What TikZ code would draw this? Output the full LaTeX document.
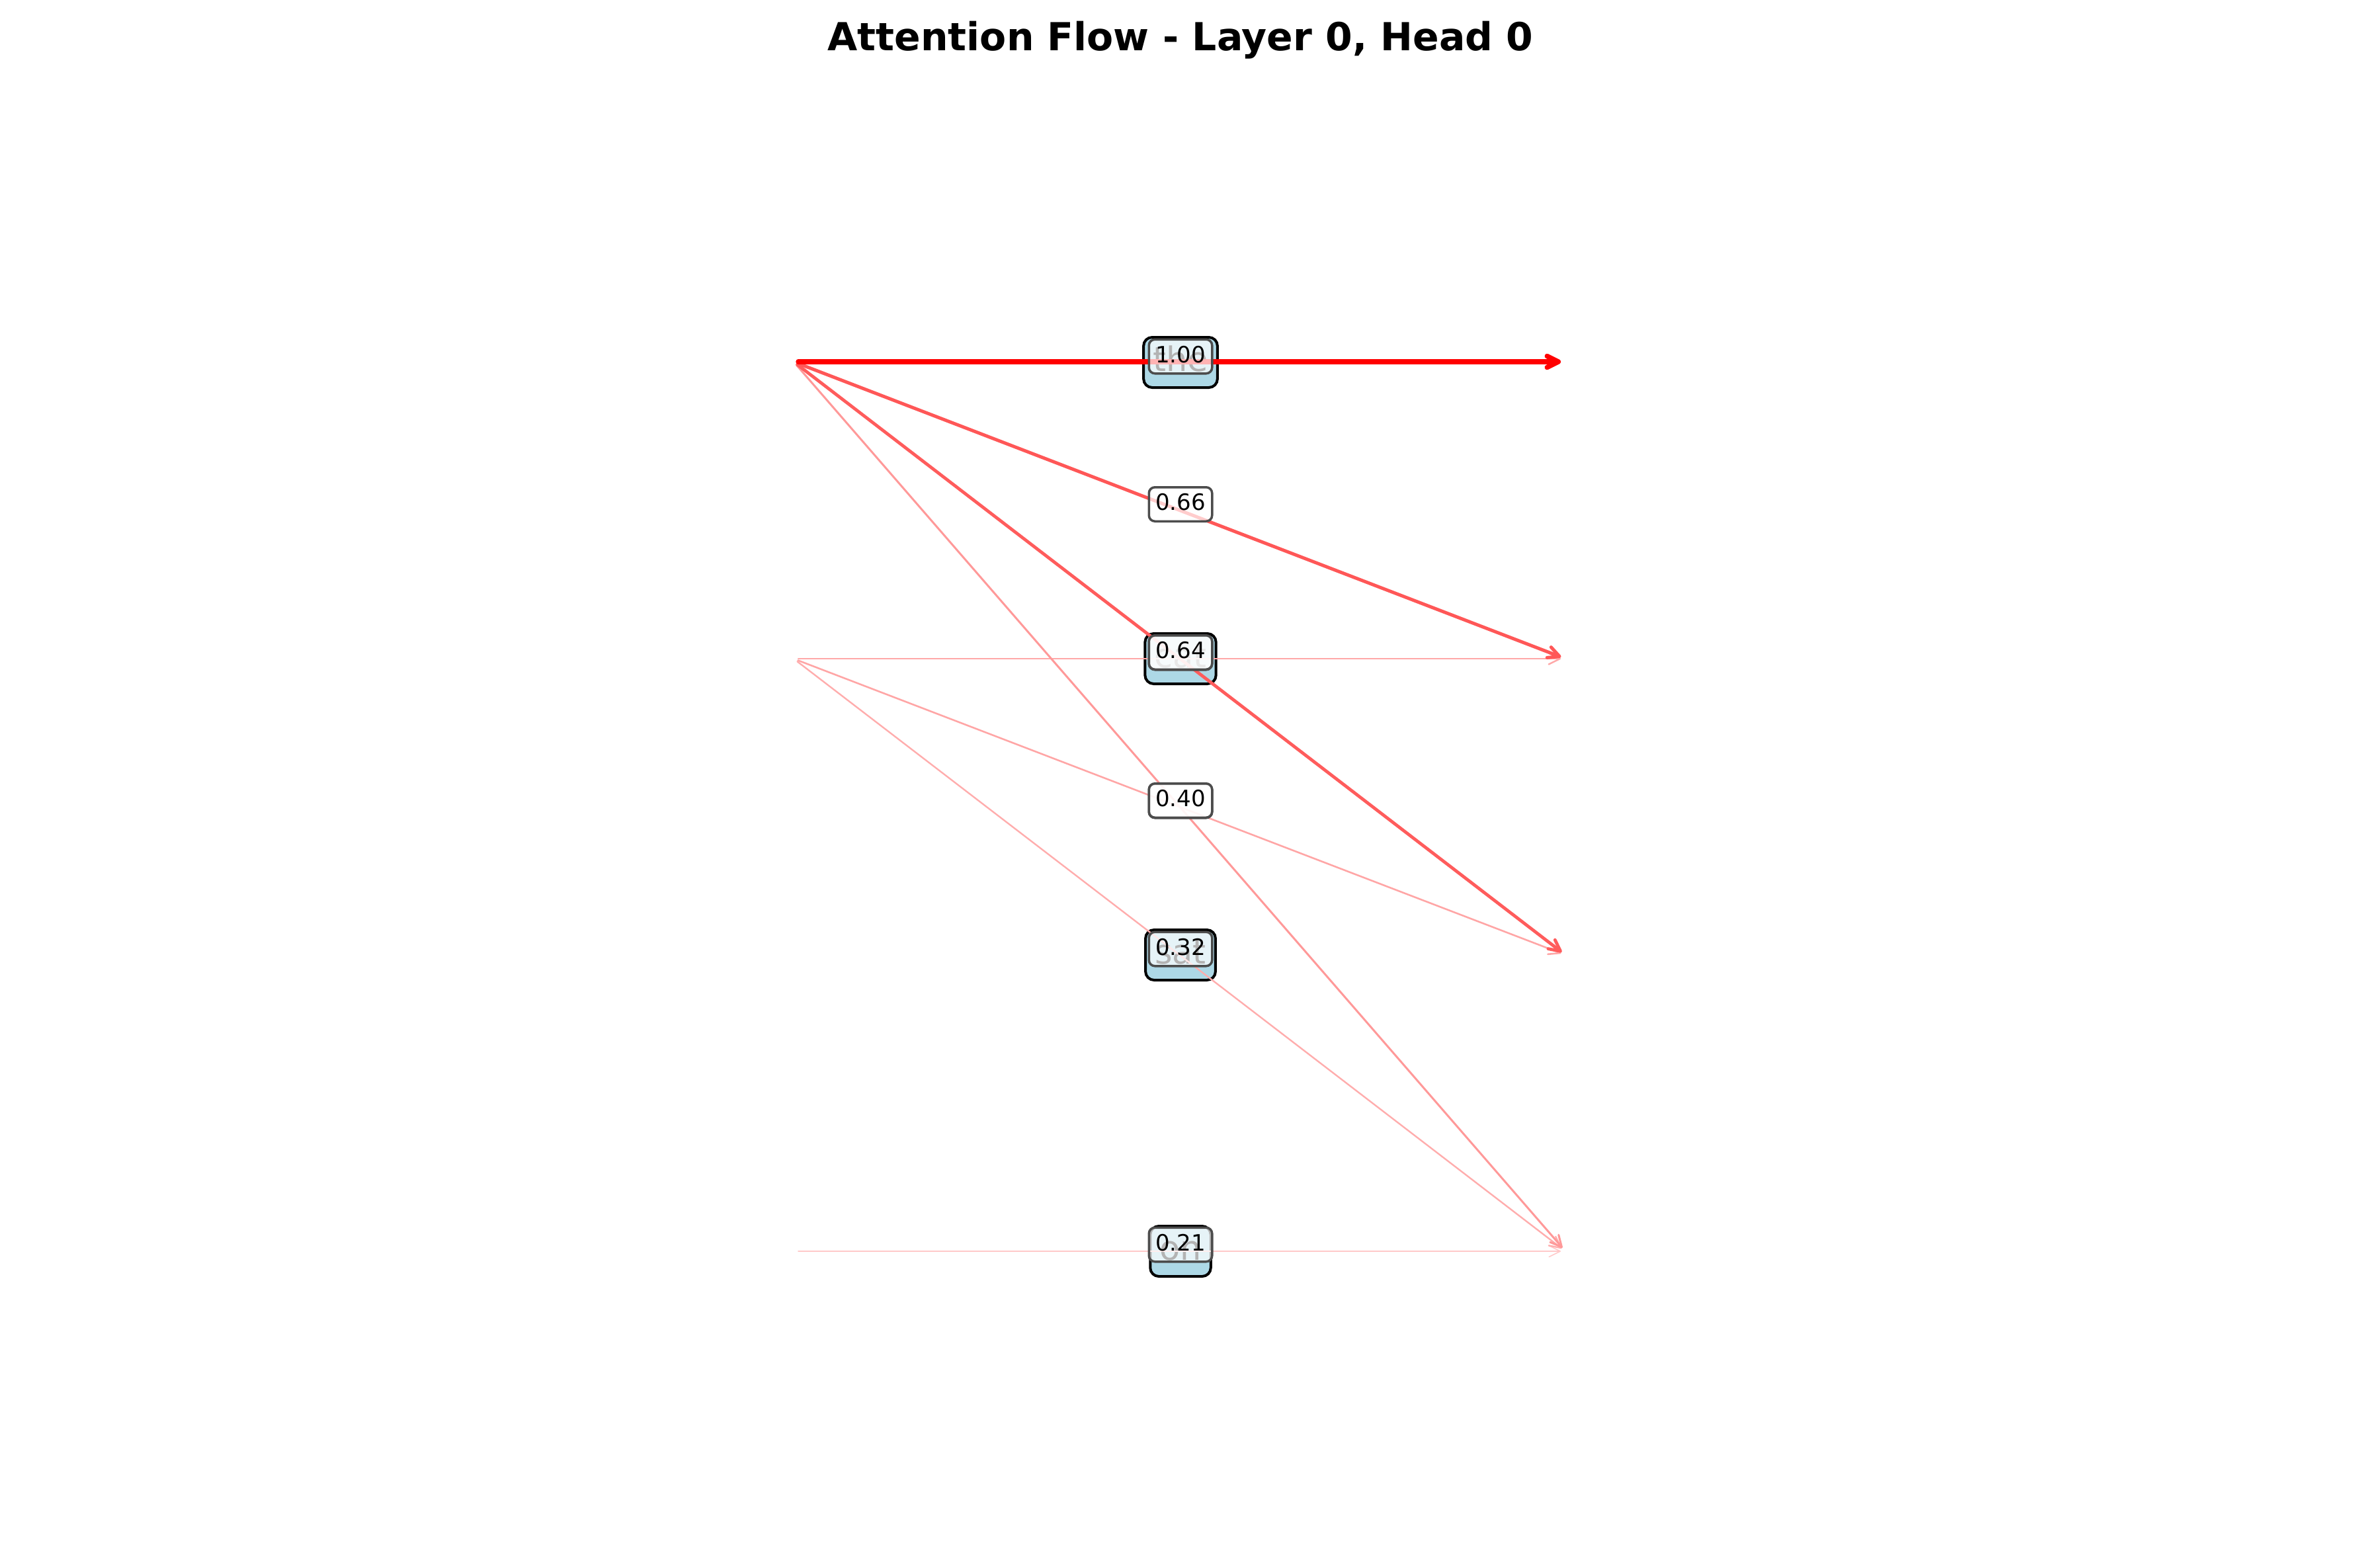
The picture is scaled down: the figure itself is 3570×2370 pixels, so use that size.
\documentclass[tikz,border=0pt]{standalone}
\usepackage{fontspec}
\setmainfont{DejaVu Sans}
\usetikzlibrary{arrows.meta,calc}
\definecolor{tokblue}{HTML}{ADD8E6}
\tikzset{
  tok/.style={draw=black, line width=4pt, fill=tokblue, rounded corners=13pt,
    font=\fontsize{51}{51}\selectfont, inner xsep=14pt, inner ysep=12.5pt,
    text height=39pt, text depth=12pt},
  lab/.style={draw=black!70, line width=3.5pt, fill=white, fill opacity=0.7,
    text opacity=1, rounded corners=9pt, font=\fontsize{34}{34}\selectfont,
    minimum width=95.5pt, inner xsep=0pt, inner ysep=8.75pt,
    text height=26pt, text depth=8pt},
  att/.style={line cap=round, shorten <=7pt, shorten >=7pt,
    -{Straight Barb[length=17pt,width=17pt,round]}},
  ttl/.style={font=\bfseries\fontsize{58.4}{60}\selectfont, anchor=base},
}
\begin{document}
\begin{tikzpicture}[x=1pt,y=-1pt]
\useasboundingbox (0,0) rectangle (3570,2370);
% title
\node[ttl] (title) at (1785,76) {Attention Flow - Layer 0, Head 0};
% source and target points
\coordinate (s0) at (1200,547);
\coordinate (s1) at (1200,996);
\coordinate (s2) at (1200,1444);
\coordinate (s3) at (1200,1892);
\coordinate (t0) at (2367,547);
\coordinate (t1) at (2367,996);
\coordinate (t2) at (2367,1444);
\coordinate (t3) at (2367,1892);
% token boxes
\node[tok] (the) at (1785,548) {the};
\node[tok] (cat) at (1785,996) {cat};
\node[tok] (sat) at (1785,1444) {sat};
\node[tok] (on)  at (1785,1892) {on};
% attention edges
\draw[att, line width=1.6pt, draw=red!21!white] (s3) -- (t3);
\draw[att, line width=2.4pt, draw=red!32!white] (s1) -- (t3);
\draw[att, line width=2.6pt, draw=red!35!white] (s1) -- (t2);
\draw[att, line width=2.5pt, draw=red!34!white] (s1) -- (t1);
\draw[att, line width=3.0pt, draw=red!40!white] (s0) -- (t3);
\draw[att, line width=4.8pt, draw=red!64!white] (s0) -- (t2);
\draw[att, line width=5.0pt, draw=red!66!white] (s0) -- (t1);
\draw[att, line width=7.5pt, draw=red] (s0) -- (t0);
% edge labels (hidden ones first)
\node[lab] (l11) at ($(s1)!0.5!(t1)+(1.5,-9)$) {\phantom{0.00}};
\node[lab] (l12) at ($(s1)!0.5!(t2)+(1.5,-9)$) {\phantom{0.00}};
\node[lab] (l13) at ($(s1)!0.5!(t3)+(1.5,-9)$) {0.32};
\node[lab] (l33) at ($(s3)!0.5!(t3)+(1.5,-10)$) {0.21};
\node[lab] (l03) at ($(s0)!0.5!(t3)+(1.5,-9)$) {0.40};
\node[lab] (l02) at ($(s0)!0.5!(t2)+(1.5,-9)$) {0.64};
\node[lab] (l01) at ($(s0)!0.5!(t1)+(1.5,-9)$) {0.66};
\node[lab] (l00) at ($(s0)!0.5!(t0)+(1.5,-8)$) {1.00};
\end{tikzpicture}
\end{document}
